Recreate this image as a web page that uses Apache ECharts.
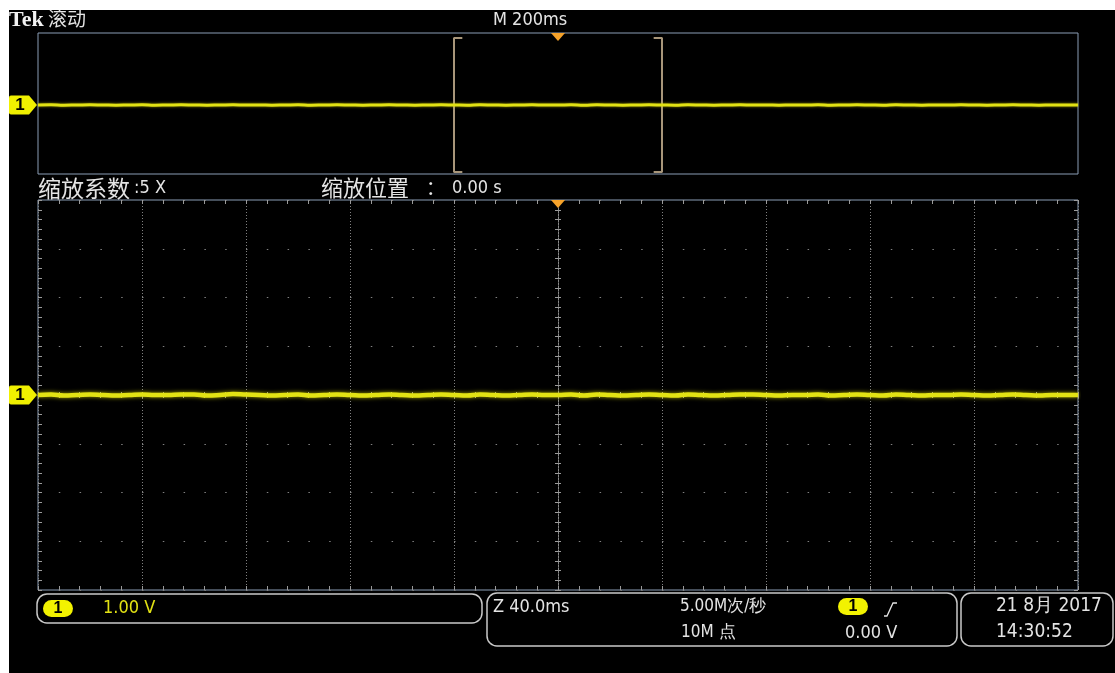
<!DOCTYPE html>
<html>
<head>
<meta charset="utf-8">
<script src="https://cdn.jsdelivr.net/npm/echarts@6/dist/echarts.min.js"></script>
<style>
  html, body { margin: 0; padding: 0; background: #ffffff; }
  #chart { width: 1115px; height: 673px; }
</style>
</head>
<body>
<div id="chart"></div>
<script>
// ---- Channel 1 record (roll mode, 200 ms/div, zoom 5x) ----
// Full record shown in the overview strip: time in ms, level in V
const overviewTime = [
  -1000,-975,-950,-925,-900,-875,-850,-825,-800,-775,-750,-725,-700,-675,-650,-625,-600,-575,-550,-525,
  -500,-475,-450,-425,-400,-375,-350,-325,-300,-275,-250,-225,-200,-175,-150,-125,-100,-75,-50,-25,
  0,25,50,75,100,125,150,175,200,225,250,275,300,325,350,375,400,425,450,475,
  500,525,550,575,600,625,650,675,700,725,750,775,800,825,850,875,900,925,950,975,1000
];
const overviewVolts = [
  0.00,0.01,-0.01,0.00,0.01,0.00,-0.01,0.00,0.01,-0.01,
  0.00,0.01,0.00,-0.01,0.00,0.01,0.00,0.00,-0.01,0.00,
  0.01,-0.01,0.00,0.01,0.00,-0.01,0.00,0.01,0.00,-0.01,
  0.00,0.01,0.00,-0.01,0.01,0.00,-0.01,0.00,0.01,0.00,
  0.00,0.01,-0.01,0.01,0.00,-0.01,0.00,0.01,0.00,-0.01,
  0.01,0.00,-0.01,0.00,0.01,0.00,0.00,-0.01,0.00,0.00,
  0.01,-0.01,0.00,0.01,0.00,-0.01,0.01,0.00,-0.01,0.00,
  0.00,0.01,0.00,-0.01,0.00,0.01,0.00,-0.01,0.00,0.00,
  0.00
];

// Zoomed record shown in the main graticule: time in ms, level in V
const mainTime = [
  -200,-195,-190,-185,-180,-175,-170,-165,-160,-155,-150,-145,-140,-135,-130,-125,-120,-115,-110,-105,
  -100,-95,-90,-85,-80,-75,-70,-65,-60,-55,-50,-45,-40,-35,-30,-25,-20,-15,-10,-5,
  0,5,10,15,20,25,30,35,40,45,50,55,60,65,70,75,80,85,90,95,
  100,105,110,115,120,125,130,135,140,145,150,155,160,165,170,175,180,185,190,195,200
];
const mainVolts = [
  0.00,0.01,-0.01,0.00,0.01,0.00,-0.01,0.00,0.01,0.00,
  0.00,0.01,0.01,-0.01,0.00,0.02,0.01,0.00,-0.01,0.00,
  0.01,-0.01,0.00,0.01,0.00,-0.01,0.00,0.01,0.00,-0.01,
  0.00,0.01,0.00,-0.01,0.01,0.00,-0.01,0.00,0.01,0.00,
  0.00,0.01,-0.01,0.01,0.00,-0.01,0.00,0.01,0.00,-0.01,
  0.01,0.00,-0.01,0.00,0.01,0.01,0.00,-0.01,0.00,0.00,
  0.01,-0.01,0.00,0.01,0.00,-0.01,0.01,0.00,-0.01,0.00,
  0.00,0.01,0.00,-0.01,0.00,0.01,0.00,-0.01,0.00,0.00,
  0.00
];

// Horizontal / vertical settings
const overviewRange = [-1000, 1000];   // ms, 10 div x 200 ms
const zoomWindow = [-200, 200];        // ms, 10 div x 40 ms
const zoomStep = 40;                   // ms per division
const voltRange = [-4, 4];             // 8 div x 1.00 V
const voltStep = 1;
const triggerTime = 0;
const channelLevel = 0;

// ---- Styling ----
const FONT = '"Liberation Sans Narrow","DejaVu Sans Condensed","Noto Sans",sans-serif';
const CJK = '"Noto Sans CJK SC",sans-serif';
const TEXT = '#e4e4e4';
const YELLOW = '#e2e214';
const FRAME = '#8a9db5';
const DOT = '#808080';
const TICK = '#9a9a9a';
const ORANGE = '#f5a22a';
const BRACKET = '#a8967a';

const ovMin = -3.915, ovMax = 4.085;   // overview vertical extent (trace sits slightly below middle)
const bracketSpan = 3.8;
const serif = 16;                      // ms

function pairs(xs, ys) { return xs.map((x, i) => [x, ys[i]]); }

const channelMarker = {
  coord: null,
  symbol: 'path://M2,0 L20,0 L28,10 L20,20 L2,20 Q0,20 0,18 L0,2 Q0,0 2,0 Z',
  symbolSize: [28, 19],
  symbolOffset: [-15, 0],
  itemStyle: { color: '#f0f000' },
  label: { show: true, formatter: '1', color: '#000', fontWeight: 'bold', fontSize: 17,
           fontFamily: 'Liberation Sans, sans-serif', offset: [-3, 0] }
};
const triggerMarker = {
  coord: null,
  symbol: 'path://M0,0 L14,0 L7,8 Z',
  symbolSize: [14, 8],
  symbolOffset: [0, 4],
  itemStyle: { color: ORANGE },
  label: { show: false }
};

function borderX(pos, grid) {
  return {
    gridIndex: grid, type: 'value', position: pos,
    min: zoomWindow[0], max: zoomWindow[1], interval: zoomStep,
    axisLine: { show: false, onZero: false },
    axisTick: { show: true, inside: true, length: 4, lineStyle: { color: TICK } },
    minorTick: { show: true, splitNumber: 5, length: 4, lineStyle: { color: TICK } },
    axisLabel: { show: false },
    splitLine: { show: pos === 'bottom', lineStyle: { color: DOT, type: [1, 2], width: 1 } }
  };
}
function borderY(pos, grid) {
  return {
    gridIndex: grid, type: 'value', position: pos,
    min: voltRange[0], max: voltRange[1], interval: voltStep,
    axisLine: { show: false, onZero: false },
    axisTick: { show: true, inside: true, length: 4, lineStyle: { color: TICK } },
    minorTick: { show: true, splitNumber: 5, length: 4, lineStyle: { color: TICK } },
    axisLabel: { show: false },
    // dots at every minor time division along the horizontal graticule lines
    splitLine: { show: pos === 'left', lineStyle: { color: DOT, type: [1.5, 19.3], width: 1 } }
  };
}
// Center cross of the graticule: two axes per line so the ticks cross it
function centerX(inside, zeroIdx) {
  return {
    gridIndex: 1, type: 'value', position: 'bottom',
    min: zoomWindow[0], max: zoomWindow[1], interval: zoomStep,
    axisLine: { show: true, onZero: true, onZeroAxisIndex: zeroIdx, lineStyle: { color: '#8c8c8c', type: [1, 2] } },
    axisTick: { show: true, inside: inside, length: 3, lineStyle: { color: TICK } },
    minorTick: { show: true, splitNumber: 5, length: 3, lineStyle: { color: TICK } },
    axisLabel: { show: false }, splitLine: { show: false }
  };
}
function centerY(inside, zeroIdx) {
  return {
    gridIndex: 1, type: 'value', position: 'left',
    min: voltRange[0], max: voltRange[1], interval: voltStep,
    axisLine: { show: true, onZero: true, onZeroAxisIndex: zeroIdx, lineStyle: { color: '#8c8c8c', type: [1, 2] } },
    axisTick: { show: true, inside: inside, length: 3, lineStyle: { color: TICK } },
    minorTick: { show: true, splitNumber: 5, length: 3, lineStyle: { color: TICK } },
    axisLabel: { show: false }, splitLine: { show: false }
  };
}

function txt(x, y, text, opts) {
  return {
    type: 'text', x: x, y: y, z: 50,
    style: Object.assign({ text: text, fill: TEXT, font: '17px ' + FONT, verticalAlign: 'middle' }, (opts || {}))
  };
}
function box(x, y, w, h, r) {
  return { type: 'rect', z: 40, shape: { x: x, y: y, width: w, height: h, r: r },
           style: { fill: 'none', stroke: '#c9c9c9', lineWidth: 1.5 } };
}
function pill(x, y) {
  return [
    { type: 'rect', z: 45, shape: { x: x, y: y, width: 30, height: 17, r: 8.5 }, style: { fill: '#f2f200' } },
    txt(x + 15, y + 9, '1', { fill: '#000', font: 'bold 16px "Liberation Sans",sans-serif', align: 'center' })
  ];
}

const chart = echarts.init(document.getElementById('chart'), null, { renderer: 'canvas' });

const option = {
  backgroundColor: '#000000',
  animation: false,
  grid: [
    { left: 38, top: 33, width: 1040, height: 141, show: true, borderColor: FRAME, borderWidth: 1, backgroundColor: 'transparent' },
    { left: 38, top: 200, width: 1040, height: 390, show: true, borderColor: FRAME, borderWidth: 1, backgroundColor: 'transparent' }
  ],
  xAxis: [
    { gridIndex: 0, type: 'value', min: overviewRange[0], max: overviewRange[1],
      axisLine: { show: false, onZero: false }, axisTick: { show: false }, axisLabel: { show: false }, splitLine: { show: false } },
    borderX('bottom', 1),
    borderX('top', 1),
    centerX(false, 1),
    centerX(true, 1)
  ],
  yAxis: [
    { gridIndex: 0, type: 'value', min: ovMin, max: ovMax,
      axisLine: { show: false, onZero: false }, axisTick: { show: false }, axisLabel: { show: false }, splitLine: { show: false } },
    borderY('left', 1),
    borderY('right', 1),
    centerY(false, 1),
    centerY(true, 1)
  ],
  series: [
    {
      name: 'overview', type: 'line', xAxisIndex: 0, yAxisIndex: 0,
      data: pairs(overviewTime, overviewVolts), showSymbol: false, smooth: true,
      lineStyle: { color: YELLOW, width: 3, shadowBlur: 3, shadowColor: 'rgba(220,220,0,0.6)' },
      markPoint: {
        silent: true,
        data: [
          Object.assign({}, channelMarker, { coord: [overviewRange[0], channelLevel] }),
          Object.assign({}, triggerMarker, { coord: [triggerTime, ovMax] })
        ]
      },
      z: 5
    },
    {
      name: 'zoomLeft', type: 'line', xAxisIndex: 0, yAxisIndex: 0, showSymbol: false,
      data: [[zoomWindow[0] + serif, bracketSpan], [zoomWindow[0], bracketSpan], [zoomWindow[0], -bracketSpan], [zoomWindow[0] + serif, -bracketSpan]],
      lineStyle: { color: BRACKET, width: 2 }, z: 4
    },
    {
      name: 'zoomRight', type: 'line', xAxisIndex: 0, yAxisIndex: 0, showSymbol: false,
      data: [[zoomWindow[1] - serif, bracketSpan], [zoomWindow[1], bracketSpan], [zoomWindow[1], -bracketSpan], [zoomWindow[1] - serif, -bracketSpan]],
      lineStyle: { color: BRACKET, width: 2 }, z: 4
    },
    {
      name: 'zoom', type: 'line', xAxisIndex: 1, yAxisIndex: 1,
      data: pairs(mainTime, mainVolts), showSymbol: false, smooth: true,
      lineStyle: { color: YELLOW, width: 4.5, shadowBlur: 4, shadowColor: 'rgba(230,230,0,0.7)' },
      markPoint: {
        silent: true,
        data: [
          Object.assign({}, channelMarker, { coord: [zoomWindow[0], channelLevel] }),
          Object.assign({}, triggerMarker, { coord: [triggerTime, voltRange[1]] })
        ]
      },
      z: 5
    }
  ],
  graphic: {
    elements: [
      // page margin
      { type: 'rect', z: 100, shape: { x: 0, y: 0, width: 1115, height: 10 }, style: { fill: '#fff' } },
      { type: 'rect', z: 100, shape: { x: 0, y: 0, width: 9, height: 673 }, style: { fill: '#fff' } },
      // header
      txt(9, 20, 'Tek', { fill: '#f2f2f2', font: 'bold 22px "Liberation Serif",serif' }),
      txt(48, 19, '滚动', { font: '19px ' + CJK }),
      txt(493, 20, 'M 200ms', { font: '18px ' + FONT }),
      // zoom info line
      txt(38, 188, '缩放系数', { font: '23px ' + CJK }),
      txt(134, 188, ':5 X', { font: '18px ' + FONT }),
      txt(321, 188, '缩放位置', { font: '22px ' + CJK }),
      txt(426, 188, '：', { font: '19px ' + CJK }),
      txt(452, 188, '0.00 s', { font: '18px ' + FONT }),
      // status readouts
      box(37, 594, 445, 29, 10),
      box(487, 593, 470, 53, 10),
      box(961, 593, 152, 53, 10)
    ].concat(pill(43, 600), pill(838, 598), [
      txt(103, 608, '1.00 V', { fill: YELLOW, font: '18px ' + FONT }),
      txt(493, 607, 'Z 40.0ms', { font: '18px ' + FONT }),
      txt(680, 607, '5.00M次/秒', { font: '17px ' + FONT }),
      txt(681, 633, '10M 点', { font: '17px ' + FONT }),
      { type: 'polyline', z: 50, shape: { points: [[884, 616], [887, 616], [893, 603], [897, 603]] },
        style: { stroke: TEXT, lineWidth: 1.3, fill: null } },
      txt(845, 633, '0.00 V', { font: '18px ' + FONT }),
      txt(996, 606, '21 8月 2017', { font: '19px ' + FONT }),
      txt(996, 632, '14:30:52', { font: '19px ' + FONT })
    ])
  }
};

chart.setOption(option);
</script>
</body>
</html>
